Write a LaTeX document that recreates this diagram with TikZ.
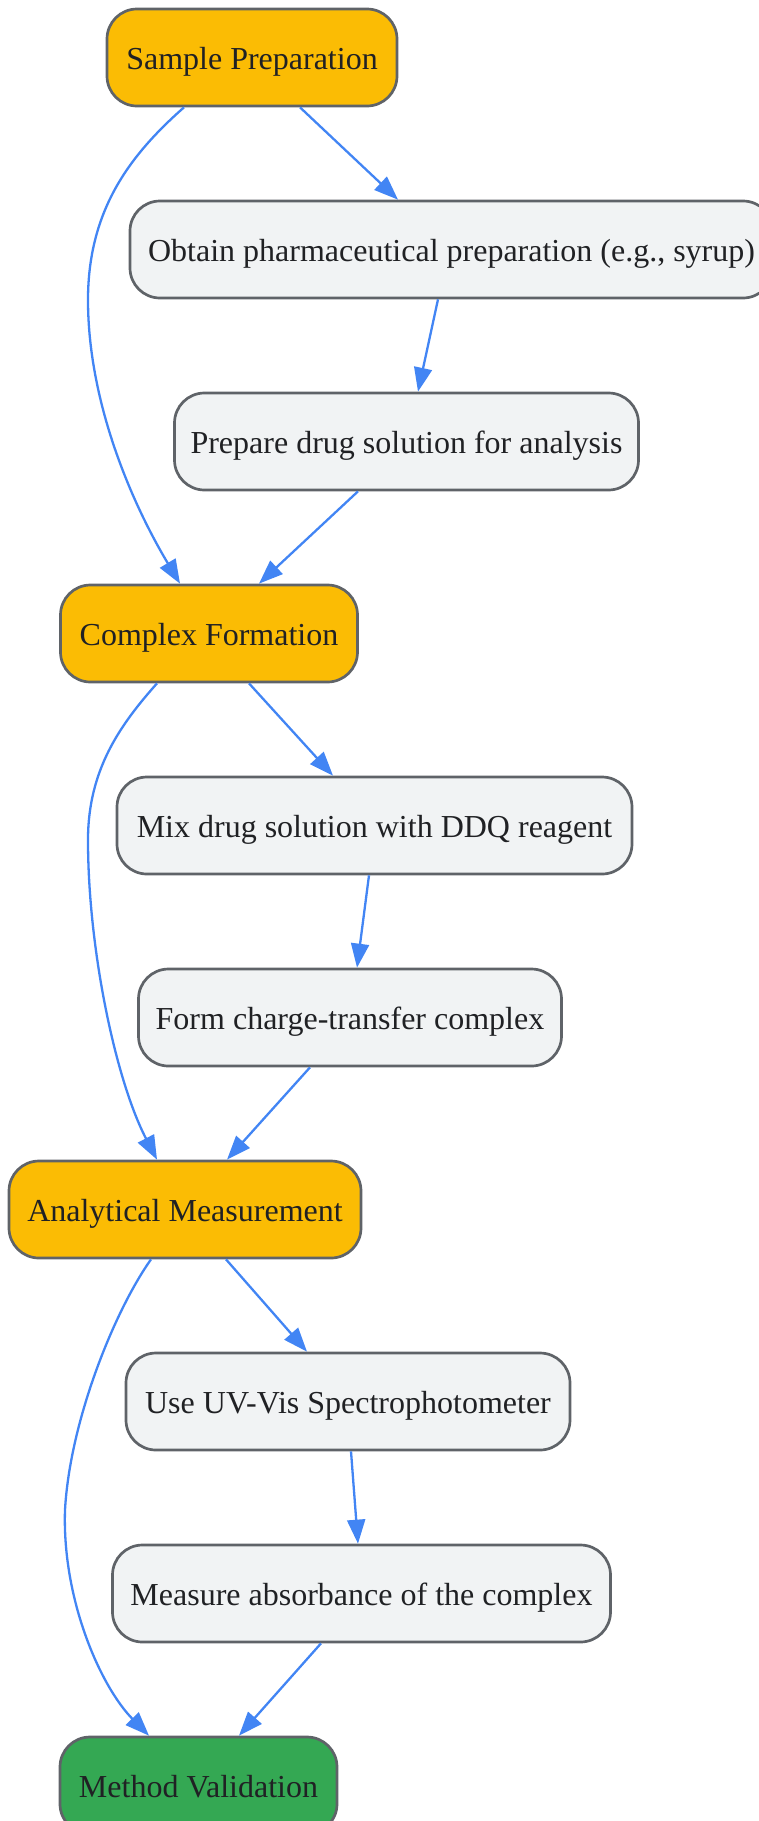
\documentclass[tikz,border=0pt]{standalone}
\usepackage{fontspec}
\setmainfont{Liberation Serif}
\usetikzlibrary{arrows.meta}
\definecolor{phase}{HTML}{FBBC04}
\definecolor{stepfill}{HTML}{F1F3F4}
\definecolor{endfill}{HTML}{34A853}
\definecolor{border}{HTML}{5F6368}
\definecolor{edgeblue}{HTML}{4285F4}
\definecolor{txt}{HTML}{202124}
\tikzset{
  box/.style={draw=border, line width=2.7pt, rounded corners=30pt, minimum height=97pt,
    inner sep=0pt, text height=28pt, text depth=4.4pt, text=txt,
    font=\fontsize{32pt}{38pt}\selectfont},
  phasebox/.style={box, fill=phase},
  stepbox/.style={box, fill=stepfill},
  endbox/.style={box, fill=endfill},
  edge/.style={draw=edgeblue, line width=2.3pt, -{Triangle[length=24pt,width=18pt]}}
}
\begin{document}
\begin{tikzpicture}[x=1pt,y=-1pt]
\useasboundingbox (0,0) rectangle (759,1821);
\clip (0,0) rectangle (759,1821);
\node[phasebox, minimum width=290pt] (sp) at (252,57.5) {Sample Preparation};
\node[stepbox, minimum width=643pt] (ob) at (451.5,249.5) {Obtain pharmaceutical preparation (e.g., syrup)};
\node[stepbox, minimum width=464pt] (pd) at (406.5,441.5) {Prepare drug solution for analysis};
\node[phasebox, minimum width=297pt] (cf) at (209,633.5) {Complex Formation};
\node[stepbox, minimum width=515pt] (mx) at (374.5,825.5) {Mix drug solution with DDQ reagent};
\node[stepbox, minimum width=423pt] (fc) at (350,1017.5) {Form charge-transfer complex};
\node[phasebox, minimum width=352pt] (am) at (185,1209.5) {Analytical Measurement};
\node[stepbox, minimum width=444pt] (uv) at (348,1401.5) {Use UV-Vis Spectrophotometer};
\node[stepbox, minimum width=498pt] (ma) at (361.5,1593.5) {Measure absorbance of the complex};
\node[endbox, minimum width=277pt] (mv) at (198.5,1785.5) {Method Validation};

\draw[edge] ([xshift=48pt]sp.south) -- ([xshift=-53.5pt]ob.north);
\draw[edge] ([xshift=-13.5pt]ob.south) -- ([xshift=11.5pt]pd.north);
\draw[edge] ([xshift=-48.5pt]pd.south) -- ([xshift=50pt]cf.north);
\draw[edge] ([xshift=-68pt]sp.south) .. controls (130,155) and (88,210) .. (88,300)
  .. controls (88,400) and (130,500) .. ([xshift=-29pt]cf.north);

\draw[edge] ([xshift=40pt]cf.south) -- ([xshift=-41.5pt]mx.north);
\draw[edge] ([xshift=-5.5pt]mx.south) -- ([xshift=7pt]fc.north);
\draw[edge] ([xshift=-40pt]fc.south) -- ([xshift=42pt]am.north);
\draw[edge] ([xshift=-52pt]cf.south) .. controls (120,725) and (88,770) .. (88,840)
  .. controls (88,950) and (116,1081) .. ([xshift=-28pt]am.north);

\draw[edge] ([xshift=41pt]am.south) -- ([xshift=-41pt]uv.north);
\draw[edge] ([xshift=3pt]uv.south) -- ([xshift=-3.5pt]ma.north);
\draw[edge] ([xshift=-40.5pt]ma.south) -- ([xshift=40.5pt]mv.north);
\draw[edge] ([xshift=-34pt]am.south) .. controls (115,1310) and (70,1420) .. (65,1510)
  .. controls (62,1600) and (101,1687) .. ([xshift=-49.5pt]mv.north);
\end{tikzpicture}
\end{document}
